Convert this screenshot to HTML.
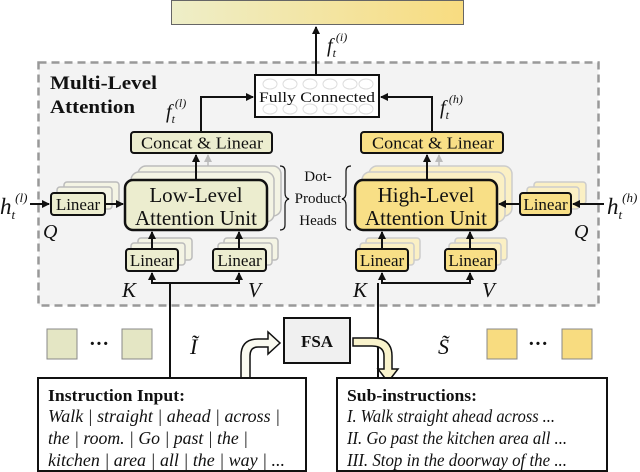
<!DOCTYPE html>
<html><head><meta charset="utf-8"><style>
html,body{margin:0;padding:0;background:#fff;width:640px;height:472px;overflow:hidden}
text{font-family:"Liberation Serif",serif;fill:#111}
</style></head><body>
<svg width="640" height="472" viewBox="0 0 640 472" xmlns="http://www.w3.org/2000/svg">
<defs>
<linearGradient id="bar" x1="0" x2="1" y1="0" y2="0"><stop offset="0" stop-color="#eeeec8"/><stop offset="1" stop-color="#f8dc80"/></linearGradient>
<marker id="ah" markerWidth="8" markerHeight="8" refX="7" refY="4" orient="auto" markerUnits="userSpaceOnUse"><path d="M0,0 L8,4 L0,8z" fill="#111"/></marker>
<marker id="ahg" markerWidth="8" markerHeight="8" refX="7" refY="4" orient="auto" markerUnits="userSpaceOnUse"><path d="M0,0 L8,4 L0,8z" fill="#bbb"/></marker>
</defs>
<rect x="171.5" y="0.5" width="292" height="24" fill="url(#bar)" stroke="#666"/>
<rect x="38.5" y="62.5" width="560" height="243" fill="#f3f3f3" stroke="#999" stroke-width="2.5" stroke-dasharray="8,5"/>
<text x="50" y="89" font-size="19" font-weight="bold" textLength="107" lengthAdjust="spacingAndGlyphs">Multi-Level</text>
<text x="50" y="113" font-size="19" font-weight="bold" textLength="85" lengthAdjust="spacingAndGlyphs">Attention</text>
<line x1="316" y1="75" x2="316" y2="27" stroke="#111" stroke-width="2" marker-end="url(#ah)"/>
<text x="327" y="52" font-size="20" font-style="italic">f<tspan font-size="12" dy="5">t</tspan><tspan font-size="12" dy="-16">(i)</tspan></text>
<rect x="255" y="75" width="124" height="42" fill="#fff" stroke="#111" stroke-width="2"/>
<g fill="none" stroke="#ddd"><ellipse cx="270" cy="84" rx="7" ry="5"/><ellipse cx="290" cy="84" rx="7" ry="5"/><ellipse cx="310" cy="84" rx="7" ry="5"/><ellipse cx="330" cy="84" rx="7" ry="5"/><ellipse cx="350" cy="84" rx="7" ry="5"/><ellipse cx="366" cy="84" rx="7" ry="5"/><ellipse cx="270" cy="109" rx="7" ry="5"/><ellipse cx="290" cy="109" rx="7" ry="5"/><ellipse cx="310" cy="109" rx="7" ry="5"/><ellipse cx="330" cy="109" rx="7" ry="5"/><ellipse cx="350" cy="109" rx="7" ry="5"/><ellipse cx="366" cy="109" rx="7" ry="5"/></g>
<text x="259" y="102" font-size="15" textLength="116" lengthAdjust="spacingAndGlyphs">Fully Connected</text>
<polyline points="201,132 201,97 253,97" fill="none" stroke="#111" stroke-width="2" marker-end="url(#ah)"/>
<polyline points="432,132 432,97 381,97" fill="none" stroke="#111" stroke-width="2" marker-end="url(#ah)"/>
<text x="166" y="118" font-size="20" font-style="italic">f<tspan font-size="12" dy="5">t</tspan><tspan font-size="12" dy="-16">(l)</tspan></text>
<text x="440" y="114" font-size="20" font-style="italic">f<tspan font-size="12" dy="5">t</tspan><tspan font-size="12" dy="-16">(h)</tspan></text>
<rect x="131" y="132" width="141" height="21" rx="3" fill="#ecedcf" stroke="#111" stroke-width="2"/>
<text x="141" y="148.5" font-size="17" textLength="122" lengthAdjust="spacingAndGlyphs">Concat &amp; Linear</text>
<rect x="361" y="132" width="142" height="21" rx="3" fill="#f8df86" stroke="#111" stroke-width="2"/>
<text x="372" y="148.5" font-size="17" textLength="122" lengthAdjust="spacingAndGlyphs">Concat &amp; Linear</text>
<g fill="#f4f4e4" stroke="#bbb" stroke-width="1.5">
<rect x="138" y="166" width="143" height="50" rx="8"/><rect x="131" y="172" width="143" height="50" rx="8"/>
<rect x="64" y="182" width="55" height="22" rx="3"/><rect x="57" y="187" width="55" height="22" rx="3"/>
<rect x="138" y="238" width="54" height="22" rx="3"/><rect x="131" y="243" width="54" height="22" rx="3"/>
<rect x="224" y="238" width="54" height="22" rx="3"/><rect x="218" y="243" width="54" height="22" rx="3"/>
</g>
<g fill="#fbf0c4" stroke="#ccc" stroke-width="1.5">
<rect x="369" y="166" width="143" height="50" rx="8"/><rect x="362" y="172" width="143" height="50" rx="8"/>
<rect x="534" y="182" width="52" height="22" rx="3"/><rect x="527" y="187" width="52" height="22" rx="3"/>
<rect x="366" y="238" width="54" height="22" rx="3"/><rect x="360" y="243" width="54" height="22" rx="3"/>
<rect x="455" y="238" width="52" height="22" rx="3"/><rect x="449" y="243" width="52" height="22" rx="3"/>
</g>
<line x1="208" y1="166" x2="208" y2="155" stroke="#bbb" stroke-width="1.5" marker-end="url(#ahg)"/>
<line x1="439" y1="166" x2="439" y2="155" stroke="#bbb" stroke-width="1.5" marker-end="url(#ahg)"/>
<rect x="125" y="180" width="142" height="50" rx="8" fill="#ecedcf" stroke="#111" stroke-width="2.5"/>
<text x="196" y="202" font-size="21" text-anchor="middle">Low-Level</text>
<text x="196" y="225" font-size="21" text-anchor="middle" textLength="122" lengthAdjust="spacingAndGlyphs">Attention Unit</text>
<rect x="355" y="180" width="142" height="50" rx="8" fill="#f8df86" stroke="#111" stroke-width="2.5"/>
<text x="426" y="202" font-size="21" text-anchor="middle">High-Level</text>
<text x="426" y="225" font-size="21" text-anchor="middle" textLength="122" lengthAdjust="spacingAndGlyphs">Attention Unit</text>
<line x1="196" y1="180" x2="196" y2="155" stroke="#111" stroke-width="2" marker-end="url(#ah)"/>
<line x1="427" y1="180" x2="427" y2="155" stroke="#111" stroke-width="2" marker-end="url(#ah)"/>
<path d="M280,166 q5,0 5,5 v22 q0,5 4,6 q-4,1 -4,6 v20 q0,5 -5,5" fill="none" stroke="#111" stroke-width="1.2"/>
<path d="M357,166 q-5,0 -5,5 v22 q0,5 -4,6 q4,1 4,6 v20 q0,5 5,5" fill="none" stroke="#111" stroke-width="1.2" transform="translate(-6,0)"/>
<text x="318" y="181" font-size="15" text-anchor="middle">Dot-</text>
<text x="318" y="203" font-size="15" text-anchor="middle">Product</text>
<text x="318" y="225" font-size="15" text-anchor="middle">Heads</text>
<rect x="51" y="193" width="54" height="22" rx="3" fill="#ecedcf" stroke="#111" stroke-width="2"/>
<text x="78" y="210" font-size="17" text-anchor="middle">Linear</text>
<line x1="30" y1="204" x2="49" y2="204" stroke="#111" stroke-width="2" marker-end="url(#ah)"/>
<line x1="105" y1="204" x2="123" y2="204" stroke="#111" stroke-width="2" marker-end="url(#ah)"/>
<text x="0" y="214" font-size="23" font-style="italic">h<tspan font-size="13" dy="5">t</tspan><tspan font-size="13" dy="-17">(l)</tspan></text>
<text x="43" y="238" font-size="20" font-style="italic">Q</text>
<rect x="520" y="193" width="51" height="22" rx="3" fill="#f8df86" stroke="#111" stroke-width="2"/>
<text x="545.5" y="210" font-size="17" text-anchor="middle">Linear</text>
<line x1="604" y1="204" x2="573" y2="204" stroke="#111" stroke-width="2" marker-end="url(#ah)"/>
<line x1="520" y1="204" x2="499" y2="204" stroke="#111" stroke-width="2" marker-end="url(#ah)"/>
<text x="607" y="214" font-size="23" font-style="italic">h<tspan font-size="13" dy="5">t</tspan><tspan font-size="13" dy="-17">(h)</tspan></text>
<text x="574" y="238" font-size="20" font-style="italic">Q</text>
<g stroke="#111" stroke-width="2">
<rect x="126" y="249" width="52" height="22" rx="3" fill="#ecedcf"/>
<rect x="213" y="249" width="53" height="22" rx="3" fill="#ecedcf"/>
<rect x="356" y="249" width="52" height="22" rx="3" fill="#f8df86"/>
<rect x="445" y="249" width="51" height="22" rx="3" fill="#f8df86"/>
</g>
<g font-size="17" text-anchor="middle"><text x="152" y="266">Linear</text><text x="239.5" y="266">Linear</text><text x="382" y="266">Linear</text><text x="470.5" y="266">Linear</text></g>
<g stroke="#111" stroke-width="2" fill="none">
<line x1="152" y1="249" x2="152" y2="232" marker-end="url(#ah)"/>
<line x1="239" y1="249" x2="239" y2="232" marker-end="url(#ah)"/>
<line x1="382" y1="249" x2="382" y2="232" marker-end="url(#ah)"/>
<line x1="470" y1="249" x2="470" y2="232" marker-end="url(#ah)"/>
<polyline points="152,283 152,273" marker-end="url(#ah)"/>
<polyline points="239,283 239,273" marker-end="url(#ah)"/>
<polyline points="382,283 382,273" marker-end="url(#ah)"/>
<polyline points="470,283 470,273" marker-end="url(#ah)"/>
<line x1="151" y1="283" x2="240" y2="283"/>
<line x1="381" y1="283" x2="471" y2="283"/>
<line x1="170" y1="283" x2="170" y2="378"/>
<line x1="378" y1="283" x2="378" y2="378"/>
</g>
<g font-size="21" font-style="italic"><text x="122" y="297">K</text><text x="248" y="297">V</text><text x="353" y="297">K</text><text x="482" y="297">V</text></g>
<g stroke="#888" stroke-width="1"><rect x="47" y="329" width="30" height="30" fill="#e4e6c4"/><rect x="122" y="329" width="30" height="30" fill="#e4e6c4"/><rect x="487" y="329" width="30" height="30" fill="#f8dc80"/><rect x="562" y="329" width="30" height="30" fill="#f8dc80"/></g>
<text x="89" y="350" font-size="20" font-weight="bold">···</text>
<text x="528" y="350" font-size="20" font-weight="bold">···</text>
<text x="190" y="354" font-size="22" font-style="italic">Ĩ</text>
<text x="438" y="354" font-size="22" font-style="italic">S̃</text>
<rect x="284" y="318" width="66" height="45" fill="#f0f0f0" stroke="#111" stroke-width="2"/>
<text x="317" y="347" font-size="17" font-weight="bold" text-anchor="middle">FSA</text>
<path d="M241,383 V356 Q241,339 258,339 H268 V332 L280,343 L268,354 V347 H258 Q250,347 250,356 V383 Z" fill="#fafaf0" stroke="#111" stroke-width="1.5"/>
<path d="M353,338 H372 Q392,338 392,356 V369 H398 L388,382 L378,369 H384 V356 Q384,346 372,346 H353 Z" fill="#f9f3cc" stroke="#111" stroke-width="1.5"/>
<rect x="38" y="378" width="268" height="93" fill="#fff" stroke="#111" stroke-width="2"/>
<rect x="337" y="378" width="270" height="93" fill="#fff" stroke="#111" stroke-width="2"/>
<text x="48" y="401" font-size="17" font-weight="bold" textLength="137" lengthAdjust="spacingAndGlyphs">Instruction Input:</text>
<g font-size="18" font-style="italic"><text x="48" y="422" textLength="232" lengthAdjust="spacingAndGlyphs">Walk | straight | ahead | across |</text><text x="48" y="444" textLength="200" lengthAdjust="spacingAndGlyphs">the | room. | Go | past | the |</text><text x="48" y="466" textLength="237" lengthAdjust="spacingAndGlyphs">kitchen | area | all | the | way | ...</text></g>
<text x="347" y="401" font-size="17" font-weight="bold" textLength="130" lengthAdjust="spacingAndGlyphs">Sub-instructions:</text>
<g font-size="18" font-style="italic"><text x="347" y="422" textLength="208" lengthAdjust="spacingAndGlyphs">I. Walk straight ahead across ...</text><text x="347" y="444" textLength="220" lengthAdjust="spacingAndGlyphs">II. Go past the kitchen area all ...</text><text x="347" y="466" textLength="220" lengthAdjust="spacingAndGlyphs">III. Stop in the doorway of the ...</text></g>
</svg>
</body></html>
